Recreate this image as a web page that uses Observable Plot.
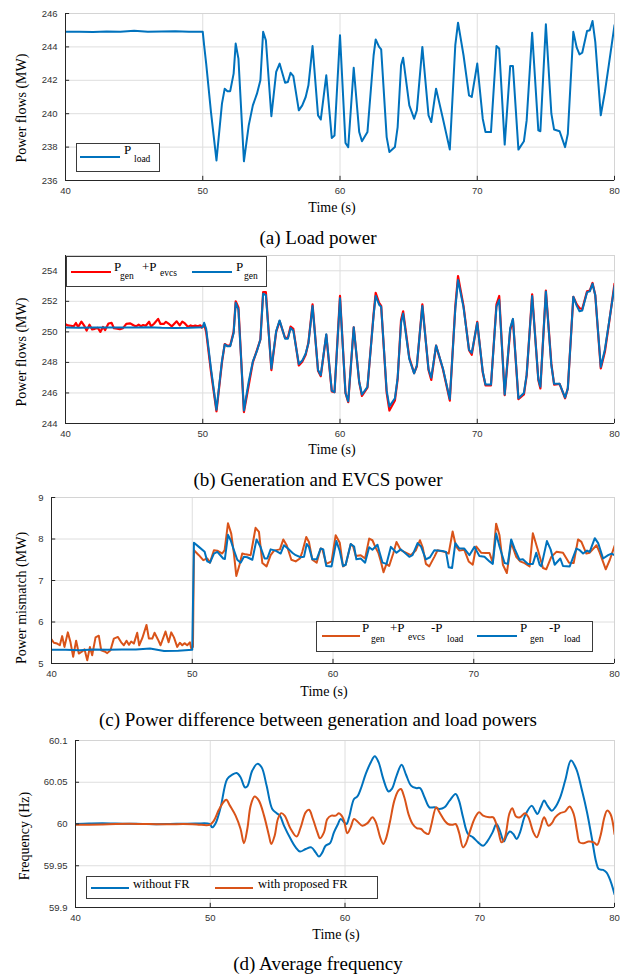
<!DOCTYPE html>
<html>
<head>
<meta charset="utf-8">
<script src="https://cdn.jsdelivr.net/npm/d3@7"></script>
<script src="https://cdn.jsdelivr.net/npm/@observablehq/plot@0.6"></script>
<style>
  html, body { margin: 0; padding: 0; background: #fff; }
  #root { position: relative; width: 624px; height: 976px; overflow: hidden; background: #fff; }
  .t { position: absolute; white-space: nowrap; line-height: 1; font-family: "Liberation Serif", "Times New Roman", serif; color: #000; }
  .sw { position: absolute; height: 2px; }
  .box { position: absolute; border: 1px solid #3a3a3a; background: #fff; box-sizing: border-box; }
</style>
</head>
<body>
<div id="root"></div>
<script>
// ---------------- data ----------------
const timeTicks = [40, 50, 60, 70, 80];
const loadTicks = [236, 238, 240, 242, 244, 246];
const genTicks = [244, 246, 248, 250, 252, 254];
const mismatchTicks = [5, 6, 7, 8, 9];
const freqTicks = [59.9, 59.95, 60, 60.05, 60.1];

// (a) and (b) share one time base
const powerTime = [40, 41, 42, 43, 44, 45, 46, 47, 48, 49,
  50.0, 50.1, 50.25, 50.6, 51.0, 51.4, 51.6, 51.8, 52.0, 52.25, 52.4, 52.6, 53.0, 53.35, 53.65, 53.95, 54.2, 54.4, 54.6, 55.0,
  55.35, 55.6, 56.0, 56.2, 56.4, 56.6, 57.0, 57.25, 57.5, 57.7, 58.0, 58.4, 58.6, 59.0, 59.4, 59.6, 60.0, 60.4, 60.6, 61.0,
  61.4, 61.6, 62.0, 62.45, 62.6, 62.85, 63.0, 63.4, 63.6, 64.0, 64.2, 64.45, 64.6, 65.05, 65.4, 65.6, 66.0, 66.45, 66.65, 67.0,
  67.5, 68.0, 68.4, 68.6, 69.0, 69.4, 69.6, 70.0, 70.4, 70.6, 71.0, 71.4, 71.6, 72.0, 72.4, 72.6, 73.0, 73.4, 73.6, 74.0,
  74.45, 74.6, 75.0, 75.4, 75.6, 76.0, 76.4, 76.6, 77.0, 77.25, 77.45, 77.65, 78.0, 78.2, 78.4, 78.6, 79.0, 79.3, 79.6, 80.0];

const loadMW = [244.9, 244.91, 244.89, 244.92, 244.9, 244.97, 244.9, 244.92, 244.93, 244.91,
  244.9, 244.1, 243.0, 240.1, 237.2, 240.6, 241.5, 241.35, 241.35, 242.4, 244.2, 243.3, 237.15, 239.3, 240.5, 241.2, 242.0, 244.9, 244.4, 239.85,
  242.5, 243.0, 241.85, 241.9, 242.45, 242.25, 240.2, 240.5, 241.0, 241.7, 244.05, 239.9, 239.65, 242.3, 238.55, 238.7, 244.7, 238.25, 238.0, 242.75,
  238.9, 238.35, 238.9, 243.5, 244.45, 244.0, 243.85, 238.6, 237.7, 238.0, 239.2, 242.9, 243.35, 240.5, 239.7, 240.2, 244.0, 239.9, 239.5, 241.5,
  239.7, 237.85, 244.1, 245.45, 243.5, 241.1, 241.0, 243.0, 239.7, 238.9, 238.9, 244.05, 243.9, 238.15, 242.85, 242.85, 237.85, 238.35, 239.6, 244.85,
  239.0, 238.95, 245.35, 240.0, 239.05, 238.95, 238.0, 238.8, 244.9, 243.95, 243.55, 243.65, 244.95, 245.0, 245.55, 244.3, 239.9, 241.3, 243.0, 245.3];

const genMW = [250.28, 250.27, 250.28, 250.29, 250.28, 250.28, 250.3, 250.27, 250.26, 250.27,
  250.3, 250.6, 250.2, 247.6, 244.9, 248.1, 249.18, 249.05, 249.05, 249.92, 251.9, 251.45, 244.85, 246.75, 248.07, 248.75, 249.5, 252.5, 252.4, 247.6,
  250.05, 250.75, 249.55, 249.55, 250.25, 250.07, 247.9, 248.12, 248.58, 249.26, 251.7, 247.5, 247.16, 249.85, 246.15, 246.05, 252.2, 246.0, 245.45, 250.3,
  246.72, 245.9, 246.4, 251.1, 252.35, 251.78, 251.65, 246.15, 245.12, 245.65, 246.98, 250.6, 251.2, 248.22, 247.28, 247.8, 251.7, 247.55, 247.0, 249.1,
  247.6, 245.6, 251.5, 253.4, 251.6, 248.82, 248.62, 250.6, 247.4, 246.55, 246.55, 251.65, 252.1, 245.9, 250.25, 250.85, 245.65, 246.0, 247.2, 252.35,
  246.9, 246.4, 252.65, 247.8, 246.6, 246.6, 245.7, 246.3, 252.3, 251.7, 251.35, 251.4, 252.6, 252.65, 253.15, 252.4, 247.7, 248.85, 250.62, 253.0];

// EVCS noise before 50 s (shared time base of (b) red and (c) orange)
const noiseTime = [40.0, 40.17, 40.4, 40.59, 40.76, 40.92, 41.16, 41.35, 41.54, 41.75, 41.94, 42.13, 42.35, 42.54, 42.73, 42.89,
  43.13, 43.36, 43.53, 43.77, 43.96, 44.19, 44.43, 44.72, 44.95, 45.14, 45.33, 45.5, 45.66, 45.85, 46.09, 46.23, 46.45, 46.75,
  46.92, 47.16, 47.32, 47.56, 47.75, 48.1, 48.32, 48.51, 48.7, 48.93, 49.12, 49.29, 49.45, 49.64, 49.83, 49.93];

const genEvcsPreMW = [250.5, 250.42, 250.4, 250.36, 250.58, 250.32, 250.67, 250.43, 250.08, 250.47, 250.16, 250.2, 250.26, 250.0, 250.32, 250.12,
  250.55, 250.59, 250.24, 250.21, 250.17, 250.24, 250.52, 250.56, 250.43, 250.36, 250.47, 250.37, 250.45, 250.4, 250.66, 250.36, 250.53, 250.85,
  250.52, 250.52, 250.66, 250.5, 250.36, 250.69, 250.43, 250.67, 250.55, 250.32, 250.42, 250.36, 250.41, 250.36, 250.43, 250.28];

const genEvcsPostMW = [250.35, 250.5, 250.0, 247.4, 244.8, 248.0, 249.2, 249.1, 249.1, 250.0, 252.0, 251.6, 244.75, 246.5, 248.0, 248.8, 249.5, 252.6, 252.6, 247.5,
  250.0, 250.7, 249.6, 249.6, 250.35, 250.2, 247.8, 248.05, 248.5, 249.3, 251.8, 247.45, 247.1, 249.8, 246.1, 246.05, 252.35, 246.0, 245.4, 250.3,
  246.7, 245.8, 246.35, 251.2, 252.55, 251.9, 251.7, 246.0, 244.85, 245.5, 246.9, 250.8, 251.35, 248.3, 247.3, 247.75, 251.8, 247.5, 246.85, 249.1,
  247.55, 245.5, 251.65, 253.65, 251.7, 248.8, 248.5, 250.65, 247.35, 246.5, 246.5, 251.8, 252.35, 245.85, 250.1, 250.8, 245.6, 245.9, 247.15, 252.45,
  246.85, 246.3, 252.7, 247.9, 246.55, 246.6, 245.65, 246.3, 252.3, 251.8, 251.55, 251.5, 252.65, 252.7, 253.2, 252.4, 247.6, 248.7, 250.55, 253.15];

// (c) Pgen - Pload
const mismatchTime = [40, 41, 42, 43, 44, 45, 46, 47, 48, 49, 50,
  50.12, 50.47, 50.88, 51.07, 51.26, 51.54, 51.78, 52.2, 52.32, 52.54, 52.73, 52.96, 53.2, 53.44, 53.67, 53.91, 54.27, 54.57, 54.86, 55.14,
  55.33, 55.57, 55.92, 56.28, 56.52, 56.8, 57.11, 57.35, 57.7, 57.94, 58.13, 58.29, 58.53, 58.84, 59.12, 59.31, 59.52, 59.9, 60.24, 60.48,
  60.71, 60.9, 61.26, 61.5, 61.66, 61.97, 62.28, 62.57, 62.8, 63.16, 63.28, 63.52, 63.8, 64.11, 64.51, 64.82, 65.42, 65.65, 66.01, 66.25,
  66.6, 66.89, 67.2, 67.79, 68.03, 68.22, 68.46, 68.69, 68.98, 69.33, 69.69, 70.05, 70.4, 70.76, 71.12, 71.35, 71.59, 71.83, 72.19, 72.42,
  72.66, 72.9, 73.25, 73.49, 73.85, 74.2, 74.44, 74.68, 74.8, 75.2, 75.46, 75.75, 76.15, 76.34, 76.82, 77.29, 77.53, 77.77, 78.05, 78.24,
  78.6, 78.84, 79.19, 79.55, 79.79, 80.0];
const mismatchMW = [5.33, 5.33, 5.32, 5.34, 5.33, 5.34, 5.34, 5.36, 5.3, 5.31, 5.33,
  7.91, 7.81, 7.69, 7.46, 7.43, 7.65, 7.69, 7.53, 7.52, 8.1, 7.97, 7.73, 7.5, 7.43, 7.57, 7.56, 7.5, 7.99, 7.8, 7.53,
  7.53, 7.75, 7.72, 7.65, 7.85, 7.77, 7.67, 7.61, 7.56, 7.57, 7.88, 7.81, 7.51, 7.51, 7.77, 7.75, 7.35, 7.34, 7.95, 7.71,
  7.35, 7.38, 7.88, 7.82, 7.51, 7.53, 7.43, 7.8, 7.74, 7.86, 7.71, 7.43, 7.4, 7.81, 7.67, 7.75, 7.57, 7.61, 7.9, 7.82,
  7.51, 7.56, 7.73, 7.71, 7.69, 7.32, 7.3, 7.9, 7.77, 7.77, 7.61, 7.81, 7.59, 7.57, 7.46, 7.4, 8.13, 7.82, 7.42, 7.4,
  7.99, 7.77, 7.5, 7.51, 7.4, 7.4, 7.67, 7.38, 7.34, 7.95, 7.75, 7.38, 7.53, 7.35, 7.34, 7.77, 7.73, 7.65, 7.72, 7.69,
  8.02, 7.9, 7.53, 7.61, 7.65, 7.61];

// (c) Pgen + Pevcs - Pload
const mismatchEvcsPreMW = [5.58, 5.5, 5.48, 5.44, 5.66, 5.4, 5.75, 5.51, 5.16, 5.55, 5.24, 5.28, 5.34, 5.08, 5.4, 5.2,
  5.63, 5.67, 5.32, 5.29, 5.25, 5.32, 5.6, 5.64, 5.51, 5.44, 5.55, 5.45, 5.53, 5.48, 5.74, 5.44, 5.61, 5.93,
  5.6, 5.6, 5.74, 5.58, 5.44, 5.77, 5.51, 5.75, 5.63, 5.4, 5.5, 5.44, 5.49, 5.44, 5.51, 5.36];
const mismatchEvcsPostTime = [50.05,
  50.12, 50.47, 50.78, 51.07, 51.26, 51.54, 51.78, 52.13, 52.3, 52.54, 52.77, 52.96, 53.13, 53.36, 53.55, 53.79, 54.15, 54.5, 54.74, 54.98,
  55.28, 55.57, 55.81, 56.23, 56.47, 56.71, 57.04, 57.35, 57.65, 57.82, 58.1, 58.29, 58.53, 58.84, 59.12, 59.24, 59.52, 59.9, 60.19, 60.48,
  60.71, 60.9, 61.26, 61.43, 61.62, 61.97, 62.28, 62.57, 62.8, 62.99, 63.23, 63.4, 63.59, 63.8, 63.99, 64.28, 64.51, 64.82, 65.06, 65.53,
  65.89, 66.18, 66.37, 66.6, 66.84, 67.2, 67.43, 67.91, 68.22, 68.5, 68.74, 68.98, 69.33, 69.64, 69.93, 70.17, 70.52, 70.88, 71.12, 71.35,
  71.59, 71.83, 72.07, 72.35, 72.66, 73.02, 73.3, 73.61, 73.97, 74.2, 74.56, 74.92, 75.15, 75.51, 75.87, 76.34, 76.77, 77.1, 77.41, 77.65,
  78.0, 78.24, 78.72, 78.95, 79.38, 79.67, 80.0];
const mismatchEvcsPostMW = [5.4,
  7.73, 7.61, 7.49, 7.53, 7.43, 7.73, 7.72, 7.65, 7.73, 8.38, 8.13, 7.65, 7.11, 7.38, 7.65, 7.63, 7.61, 8.27, 8.17, 7.42,
  7.34, 7.61, 7.72, 7.75, 7.99, 7.85, 7.5, 7.46, 7.53, 7.69, 8.05, 7.93, 7.5, 7.43, 7.77, 7.76, 7.4, 7.46, 8.09, 7.91,
  7.34, 7.38, 7.88, 7.82, 7.59, 7.61, 7.53, 8.01, 7.97, 7.82, 7.66, 7.46, 7.2, 7.4, 7.35, 7.65, 7.93, 7.73, 7.69, 7.61,
  7.73, 7.97, 7.8, 7.4, 7.34, 7.57, 7.73, 7.69, 7.65, 8.18, 7.82, 7.72, 7.74, 7.46, 7.38, 7.82, 7.67, 7.66, 7.66, 7.43,
  8.37, 8.09, 7.38, 7.18, 7.91, 7.57, 7.46, 7.42, 7.34, 8.14, 7.73, 7.3, 7.27, 7.57, 7.69, 7.67, 7.43, 7.42, 7.99, 7.93,
  7.65, 7.67, 7.85, 7.67, 7.27, 7.5, 7.83];

// (d) average frequency
const freqTimeNoFR = [40, 41, 42, 43, 44, 45, 46, 47, 48, 49,
  49.95, 50.15, 50.4, 50.77, 51.26, 51.63, 51.96, 52.25, 52.57, 52.75, 53.12, 53.49, 53.81, 54.18, 54.6, 54.93, 55.17, 55.47, 55.97, 56.34,
  56.66, 57.08, 57.5, 57.82, 58.07, 58.32, 58.56, 58.89, 59.18, 59.48, 59.68, 60.1, 60.3, 60.67, 60.92, 61.17, 61.54, 61.92, 62.21, 62.49,
  62.84, 63.23, 63.48, 63.83, 64.2, 64.53, 64.9, 65.27, 65.57, 65.9, 66.27, 66.64, 67.01, 67.39, 67.76, 68.21, 68.46, 68.76, 69.13, 69.5,
  69.88, 70.25, 70.55, 70.95, 71.24, 71.49, 71.79, 71.99, 72.24, 72.49, 72.74, 72.99, 73.36, 73.86, 74.1, 74.28, 74.53, 74.78, 75.02, 75.35,
  75.6, 75.97, 76.34, 76.77, 77.16, 77.59, 77.96, 78.33, 78.63, 78.83, 79.15, 79.4, 79.7, 80.0];
const freqNoFR = [60.0, 60.0005, 60.0008, 60.0005, 60.0003, 60.0, 59.9998, 60.0, 60.0003, 60.0005,
  60.0, 59.996, 60.001, 60.02, 60.054, 60.059, 60.061, 60.056, 60.044, 60.045, 60.064, 60.072, 60.068, 60.046, 60.018, 60.013, 60.01, 59.998, 59.982, 59.972,
  59.967, 59.97, 59.972, 59.966, 59.961, 59.966, 59.974, 59.977, 59.99, 60.0, 60.006, 60.0, 60.008, 60.03, 60.033, 60.042, 60.06, 60.074, 60.081, 60.074,
  60.054, 60.039, 60.042, 60.058, 60.071, 60.059, 60.046, 60.043, 60.043, 60.032, 60.02, 60.02, 60.018, 60.02, 60.028, 60.036, 60.028, 60.008, 59.988, 59.984,
  59.978, 59.974, 59.979, 59.99, 60.0, 59.992, 59.979, 59.986, 59.991, 59.988, 59.982, 59.99, 60.01, 60.022, 60.016, 60.012, 60.02, 60.028, 60.022, 60.016,
  60.02, 60.032, 60.052, 60.076, 60.066, 60.04, 60.014, 59.982, 59.955, 59.946, 59.945, 59.942, 59.932, 59.916];

const freqTimeFR = [40, 41, 42, 43, 44, 45, 46, 47, 48, 49,
  49.95, 50.27, 50.64, 50.97, 51.19, 51.46, 51.88, 52.25, 52.5, 52.75, 53.0, 53.29, 53.61, 53.99, 54.36, 54.53, 54.78, 55.02, 55.27, 55.52,
  55.97, 56.41, 56.71, 57.08, 57.33, 57.62, 57.95, 58.14, 58.44, 58.69, 58.99, 59.31, 59.55, 59.75, 59.93, 60.17, 60.42, 60.67, 60.92, 61.29,
  61.67, 62.04, 62.29, 62.61, 62.84, 63.03, 63.33, 63.66, 63.96, 64.15, 64.4, 64.73, 65.02, 65.32, 65.65, 65.9, 66.19, 66.39, 66.77, 67.01,
  67.39, 67.64, 67.96, 68.21, 68.46, 68.76, 68.96, 69.25, 69.63, 69.95, 70.25, 70.7, 71.0, 71.37, 71.62, 71.87, 72.19, 72.41, 72.69, 72.99,
  73.36, 73.61, 73.98, 74.23, 74.48, 74.78, 75.1, 75.35, 75.6, 75.97, 76.34, 76.67, 76.97, 77.21, 77.41, 77.71, 78.08, 78.46, 78.71, 78.96,
  79.25, 79.45, 79.7, 80.0];
const freqFR = [59.999, 59.9992, 59.9995, 60.0, 60.0002, 60.0, 59.9998, 59.9996, 60.0, 59.9995,
  59.999, 60.004, 60.017, 60.026, 60.029, 60.022, 60.01, 59.994, 59.977, 59.994, 60.022, 60.033, 60.028, 60.01, 59.986, 59.976, 59.986, 60.006, 60.013, 60.01,
  59.994, 59.985, 59.996, 60.014, 60.017, 60.006, 59.99, 59.983, 59.99, 60.006, 60.01, 60.01, 60.013, 60.01, 60.004, 59.989, 59.996, 60.006, 60.003, 59.998,
  60.001, 60.008, 60.002, 59.984, 59.976, 59.982, 60.002, 60.028, 60.04, 60.042, 60.032, 60.011, 60.0, 59.995, 59.994, 59.99, 59.988, 59.998, 60.02, 60.014,
  60.004, 60.0, 59.999, 60.0, 59.99, 59.972, 59.976, 59.99, 60.007, 60.014, 60.01, 60.008, 60.008, 59.992, 59.978, 59.984, 60.012, 60.019, 60.009, 60.008,
  60.013, 60.008, 59.99, 59.984, 59.994, 60.008, 59.998, 60.001, 60.008, 60.013, 60.015, 60.021, 60.012, 59.992, 59.978, 59.977, 59.979, 59.978, 59.975, 59.986,
  60.008, 60.016, 60.012, 59.988];

// ---------------- drawing ----------------
const BLUE = "#0072BD", ORANGE = "#D95319", RED = "#FF0000";
const root = document.getElementById("root");
const rows = (t, v) => t.map((x, i) => ({t: x, v: v[i]}));

function panel({top, height, mt, mb, ml, yDomain, yTicks, series}) {
  const ySpan = yDomain[1] - yDomain[0];
  const svg = Plot.plot({
    width: 624, height, marginTop: mt, marginBottom: mb, marginLeft: ml, marginRight: 10,
    style: {fontFamily: "'Liberation Sans', Arial, sans-serif", fontSize: "9.5px", color: "#333", background: "transparent", overflow: "visible"},
    x: {domain: [40, 80]},
    y: {domain: yDomain},
    marks: [
      Plot.gridX(timeTicks, {stroke: "#dedede", strokeOpacity: 1}),
      Plot.gridY(yTicks, {stroke: "#dedede", strokeOpacity: 1}),
      Plot.frame({stroke: "#d4d4d4"}),
      ...series.map(s => Plot.line(s.data, {x: "t", y: "v", stroke: s.color, strokeWidth: s.width || 2, curve: s.curve || "linear", clip: true})),
      Plot.ruleX([40], {stroke: "#262626", strokeWidth: 1}),
      Plot.ruleY([yDomain[0]], {stroke: "#262626", strokeWidth: 1}),
      Plot.ruleX(timeTicks, {y1: yDomain[0], y2: yDomain[0] + ySpan * 0.025, stroke: "#262626"}),
      Plot.ruleY(yTicks, {x1: 40, x2: 40.3, stroke: "#262626"}),
      Plot.axisX(timeTicks, {tickSize: 0, tickPadding: 7, label: null, tickFormat: d => String(d)}),
      Plot.axisY(yTicks, {tickSize: 0, tickPadding: 8, label: null, tickFormat: d => String(d)})
    ]
  });
  svg.style.position = "absolute";
  svg.style.left = "0px";
  svg.style.top = top + "px";
  root.appendChild(svg);
}

function text(str, x, y, size, opts = {}) {
  const d = document.createElement("div");
  d.className = "t";
  d.innerHTML = str;
  d.style.fontSize = size + "px";
  d.style.left = x + "px";
  d.style.top = y + "px";
  let tr = opts.center ? "translate(-50%,-50%)" : "translateY(-50%)";
  if (opts.rotate) tr += " rotate(-90deg)";
  d.style.transform = tr;
  root.appendChild(d);
}
function swatch(x1, x2, y, color) {
  const d = document.createElement("div");
  d.className = "sw";
  d.style.left = x1 + "px"; d.style.width = (x2 - x1) + "px";
  d.style.top = (y - 1) + "px"; d.style.background = color;
  root.appendChild(d);
}
function box(x, y, w, h) {
  const d = document.createElement("div");
  d.className = "box";
  Object.assign(d.style, {left: x + "px", top: y + "px", width: w + "px", height: h + "px"});
  root.appendChild(d);
}

// (a) load power
panel({top: 0, height: 200, mt: 13, mb: 20, ml: 65, yDomain: [236, 246], yTicks: loadTicks,
  series: [{data: rows(powerTime, loadMW), color: BLUE}]});

// (b) generation and EVCS power
panel({top: 240, height: 203, mt: 15, mb: 20, ml: 65, yDomain: [244, 255], yTicks: genTicks,
  series: [
    {data: rows([...noiseTime, ...powerTime.slice(10)], [...genEvcsPreMW, ...genEvcsPostMW]), color: RED, width: 2.2},
    {data: rows(powerTime, genMW), color: BLUE, width: 2}
  ]});

// (c) mismatch
panel({top: 480, height: 203, mt: 17, mb: 20, ml: 51, yDomain: [5, 9], yTicks: mismatchTicks,
  series: [
    {data: rows([...noiseTime, ...mismatchEvcsPostTime], [...mismatchEvcsPreMW, ...mismatchEvcsPostMW]), color: ORANGE},
    {data: rows(mismatchTime, mismatchMW), color: BLUE}
  ]});

// (d) frequency
panel({top: 725, height: 202, mt: 15, mb: 20, ml: 75, yDomain: [59.9, 60.1], yTicks: freqTicks,
  series: [
    {data: rows(freqTimeNoFR, freqNoFR), color: BLUE, curve: "catmull-rom"},
    {data: rows(freqTimeFR, freqFR), color: ORANGE, curve: "catmull-rom"}
  ]});

// axis titles
text("Power flows (MW)", 22, 108, 14, {center: true, rotate: true});
text("Power flows (MW)", 22, 352, 14, {center: true, rotate: true});
text("Power mismatch (MW)", 22, 598, 14, {center: true, rotate: true});
text("Frequency (Hz)", 25, 836, 14, {center: true, rotate: true});
text("Time (s)", 332, 208, 14, {center: true});
text("Time (s)", 332, 450, 14, {center: true});
text("Time (s)", 324, 692, 14, {center: true});
text("Time (s)", 336, 935, 14, {center: true});

// captions
text("(a) Load power", 318, 237, 19, {center: true});
text("(b) Generation and EVCS power", 318, 479, 19, {center: true});
text("(c) Power difference between generation and load powers", 318, 719, 19, {center: true});
text("(d) Average frequency", 318, 963, 19, {center: true});

// legend (a)
box(76, 143, 84, 29);
swatch(80, 120, 157, BLUE);
text("P", 124, 149, 13); text("load", 134, 160, 9.5);

// legend (b)
box(66, 256, 201, 31);
swatch(71, 111, 272, RED);
text("P", 114, 266, 13); text("gen", 120, 277, 9.5);
text("+P", 142, 266, 13); text("evcs", 160, 274, 9.5);
swatch(192, 232, 272, BLUE);
text("P", 236, 266, 13); text("gen", 244, 277, 9.5);

// legend (c)
box(316, 621, 277, 31);
swatch(322, 360, 636, ORANGE);
text("P", 362, 627, 13); text("gen", 371, 640, 9.5);
text("+P", 390, 627, 13); text("evcs", 408, 638, 9.5);
text("-P", 431, 627, 13); text("load", 447, 640, 9.5);
swatch(477, 517, 636, BLUE);
text("P", 520, 627, 13); text("gen", 530, 640, 9.5);
text("-P", 549, 627, 13); text("load", 564, 640, 9.5);

// legend (d)
box(86, 876, 292, 23);
swatch(91, 129, 888, BLUE);
text("without FR", 133, 884, 12.5);
swatch(215, 253, 888, ORANGE);
text("with proposed FR", 258, 884, 12.5);
</script>
</body>
</html>
